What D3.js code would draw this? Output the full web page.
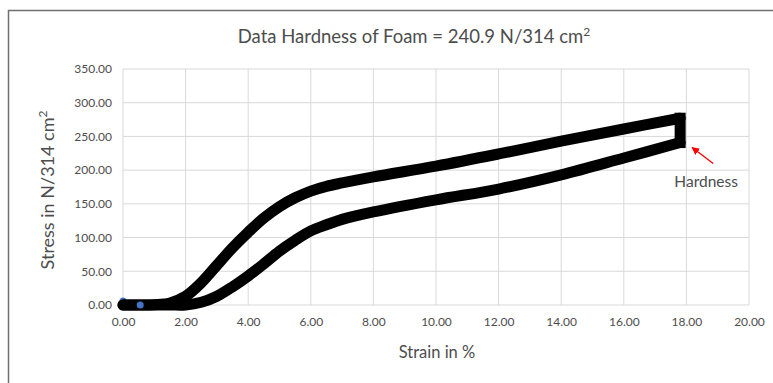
<!DOCTYPE html>
<html>
<head>
<meta charset="utf-8">
<script src="https://cdn.jsdelivr.net/npm/d3@7"></script>
<style>
  html, body { margin: 0; padding: 0; background: #fff; }
  svg { display: block; }
  text { font-family: "Lato", "Open Sans", sans-serif; fill: #4d4d4d; }
</style>
</head>
<body>
<svg id="chart" width="773" height="383"></svg>
<script>
// Loading curve (strain %, stress N/314 cm²)
const loadStrain = [0, 0.5, 1.0, 1.5, 2.0, 2.5, 3.0, 3.5, 4.0, 4.5, 5.0, 5.5, 6.0, 6.5, 7.0, 8.0, 10.0, 12.0, 14.0, 16.0, 17.8];
const loadStress = [0, 0, 0.5, 3, 13, 33, 59, 85, 108, 129, 146, 159, 169, 176, 181, 190, 206, 224, 243, 261, 277];

// Unloading curve, from the hold point back to zero
const unloadStrain = [17.8, 16.0, 14.0, 12.0, 10.0, 8.0, 7.0, 6.5, 6.0, 5.5, 5.0, 4.5, 4.0, 3.5, 3.0, 2.5, 2.0, 1.5, 1.0, 0.5, 0];
const unloadStress = [240.9, 218, 193, 172, 156, 138, 127, 119, 110, 96, 80, 61, 43, 27, 13, 4, 0, 0, 0, 0, 0];

// Separate start markers
const markerStrain = [0, 0.55];
const markerStress = [6, 0];

const xTicks = [0, 2, 4, 6, 8, 10, 12, 14, 16, 18, 20];
const yTicks = [0, 50, 100, 150, 200, 250, 300, 350];
const hardness = 240.9;

const svg = d3.select("#chart");

// Chart frame
svg.append("rect")
  .attr("x", 8.5).attr("y", 10.5)
  .attr("width", 820).attr("height", 420)
  .attr("fill", "#fff")
  .attr("stroke", "#6f6f6f").attr("stroke-width", 1.5);

const x = d3.scaleLinear().domain([0, 20]).range([123, 749]);
const y = d3.scaleLinear().domain([0, 350]).range([305, 69]);

// Gridlines
svg.append("g")
  .selectAll("line")
  .data(xTicks)
  .join("line")
  .attr("x1", d => x(d)).attr("x2", d => x(d))
  .attr("y1", y(0)).attr("y2", y(350))
  .attr("stroke", "#d9d9d9").attr("stroke-width", 1);

svg.append("g")
  .selectAll("line")
  .data(yTicks)
  .join("line")
  .attr("x1", x(0)).attr("x2", x(20))
  .attr("y1", d => y(d)).attr("y2", d => y(d))
  .attr("stroke", "#d9d9d9").attr("stroke-width", 1);

// Axes (labels only)
const xAxis = svg.append("g")
  .attr("transform", `translate(0,${y(0)})`)
  .call(d3.axisBottom(x).tickValues(xTicks).tickFormat(d3.format(".2f")).tickSize(0).tickPadding(12));
xAxis.select(".domain").remove();
xAxis.selectAll("text").attr("font-size", 12).style("font-family", "Lato, sans-serif").attr("fill", "#4d4d4d");

const yAxis = svg.append("g")
  .attr("transform", `translate(${x(0)},0)`)
  .call(d3.axisLeft(y).tickValues(yTicks).tickFormat(d3.format(".2f")).tickSize(0).tickPadding(11));
yAxis.select(".domain").remove();
yAxis.selectAll("text").attr("font-size", 12).style("font-family", "Lato, sans-serif").attr("fill", "#4d4d4d");

// Title
const title = svg.append("text")
  .attr("x", 414).attr("y", 43)
  .attr("text-anchor", "middle")
  .attr("font-size", 18.5);
title.append("tspan").text("Data Hardness of Foam = 240.9 N/314 cm");
title.append("tspan").attr("dy", -7).attr("font-size", 12).text("2");

// Axis titles
svg.append("text")
  .attr("x", 437).attr("y", 358)
  .attr("text-anchor", "middle")
  .attr("font-size", 16.5)
  .text("Strain in %");

const yTitle = svg.append("text")
  .attr("transform", "translate(54,190) rotate(-90)")
  .attr("text-anchor", "middle")
  .attr("font-size", 18);
yTitle.append("tspan").text("Stress in N/314 cm");
yTitle.append("tspan").attr("dy", -7).attr("font-size", 12).text("2");

// First marker sits behind the curve
const markers = markerStrain.map((s, i) => ({ s, v: markerStress[i] }));
svg.append("circle")
  .attr("cx", x(markers[0].s)).attr("cy", y(markers[0].v))
  .attr("r", 3.5).attr("fill", "#4472c4");

// Stress–strain loop
const line = d3.line()
  .x(d => x(d.s)).y(d => y(d.v))
  .curve(d3.curveCatmullRom.alpha(0.5));

const loadData = loadStrain.map((s, i) => ({ s, v: loadStress[i] }));
const unloadData = unloadStrain.map((s, i) => ({ s, v: unloadStress[i] })).reverse();
const holdData = [loadData[loadData.length - 1], { s: unloadStrain[0], v: unloadStress[0] }];

const curveStyle = sel => sel
  .attr("fill", "none")
  .attr("stroke", "#000")
  .attr("stroke-width", 11)
  .attr("stroke-linejoin", "round");

svg.append("path").datum(loadData).attr("d", line).call(curveStyle).attr("stroke-linecap", "round");
svg.append("path").datum(unloadData).attr("d", line).call(curveStyle).attr("stroke-linecap", "round");
svg.append("path").datum(holdData)
  .attr("d", d3.line().x(d => x(d.s)).y(d => y(d.v)))
  .call(curveStyle).attr("stroke-linecap", "square");

// Second marker on top
svg.append("circle")
  .attr("cx", x(markers[1].s)).attr("cy", y(markers[1].v))
  .attr("r", 3.5).attr("fill", "#4472c4");

// Hardness annotation
svg.append("defs").append("marker")
  .attr("id", "arrowhead")
  .attr("viewBox", "0 0 10 10")
  .attr("refX", 9).attr("refY", 5)
  .attr("markerWidth", 6).attr("markerHeight", 6)
  .attr("orient", "auto")
  .append("path").attr("d", "M0,0 L10,5 L0,10 z").attr("fill", "#ff0000");

const hx = x(17.8), hy = y(hardness);
svg.append("line")
  .attr("x1", hx + 33).attr("y1", hy + 21)
  .attr("x2", hx + 12).attr("y2", hy + 5)
  .attr("stroke", "#ff0000").attr("stroke-width", 1.3)
  .attr("marker-end", "url(#arrowhead)");

svg.append("text")
  .attr("x", hx + 26).attr("y", hy + 44)
  .attr("text-anchor", "middle")
  .attr("font-size", 15.5)
  .text("Hardness");
</script>
</body>
</html>
